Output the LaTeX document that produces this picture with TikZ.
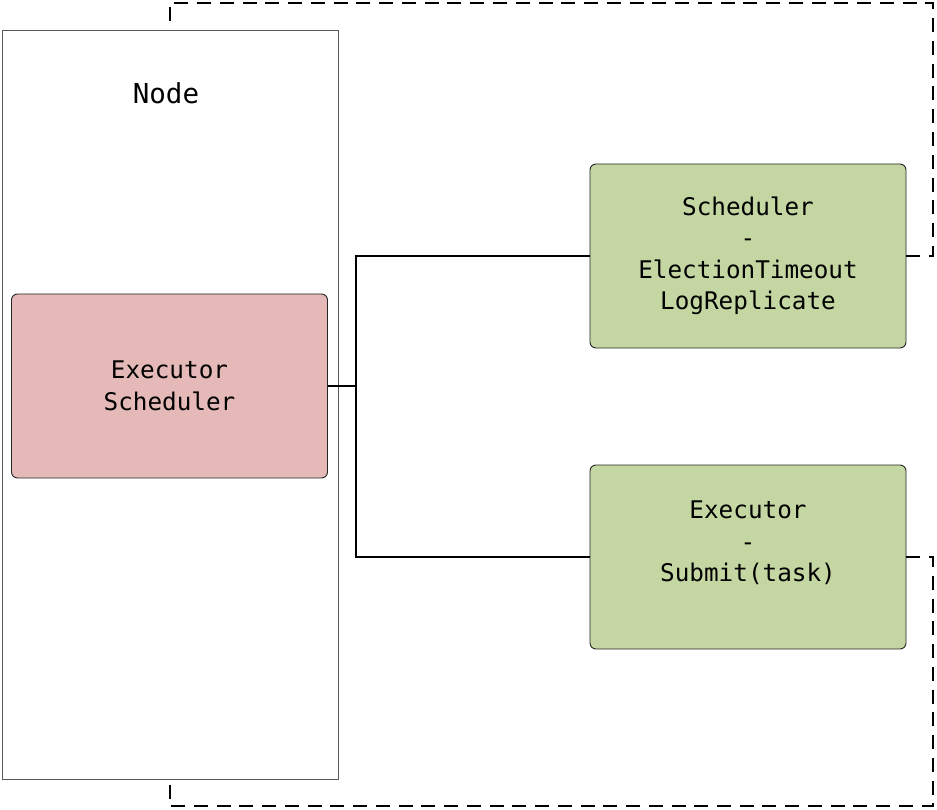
\documentclass[tikz,border=0pt]{standalone}
\usepackage{fontspec}
\newfontfamily\monof{DejaVu Sans Mono}
\begin{document}
\begin{tikzpicture}[x=1pt,y=-1pt,
  box/.style={draw=black!85, line width=0.9pt, rounded corners=6pt, minimum width=316pt, minimum height=184pt, align=center, inner sep=0pt,
    font=\monof\fontsize{24.3}{31.5}\selectfont},
  conn/.style={draw=black, line width=1.7pt},
  dconn/.style={draw=black, line width=1.8pt, dash pattern=on 14pt off 8.76pt}]
\useasboundingbox (0,0) rectangle (937,810);
\node[draw=black!65, line width=0.8pt, minimum width=336pt, minimum height=749pt, inner sep=0pt] (outer) at (170,404.5) {};
\node[font=\monof\fontsize{27.5}{32}\selectfont, anchor=base] (lbl) at (166,104) {Node};
\node[box, fill={rgb,255:red,229;green,185;blue,183}] (pink) at (169.5,386) {Executor\\Scheduler};
\node[box, fill={rgb,255:red,196;green,214;blue,161}] (g1) at (748,256) {Scheduler\\-\\ElectionTimeout\\LogReplicate};
\node[box, fill={rgb,255:red,196;green,214;blue,161}] (g2) at (748,557) {Executor\\-\\Submit(task)\\\mbox{}};
\coordinate (jn) at (356,386);
\draw[conn] (pink.east) -- (jn) |- (g1.west);
\draw[conn] (jn) |- (g2.west);
\coordinate (topend) at (170,21);
\coordinate (botend) at (170,785);
\draw[dconn] (g1.east) -- (933,256) -- (933,3) -- (170,3) -- (topend);
\draw[dconn, dash pattern=on 14pt off 8.74pt] (g2.east) -- (933,557) -- (933,806) -- (170,806) -- (botend);
\end{tikzpicture}
\end{document}
